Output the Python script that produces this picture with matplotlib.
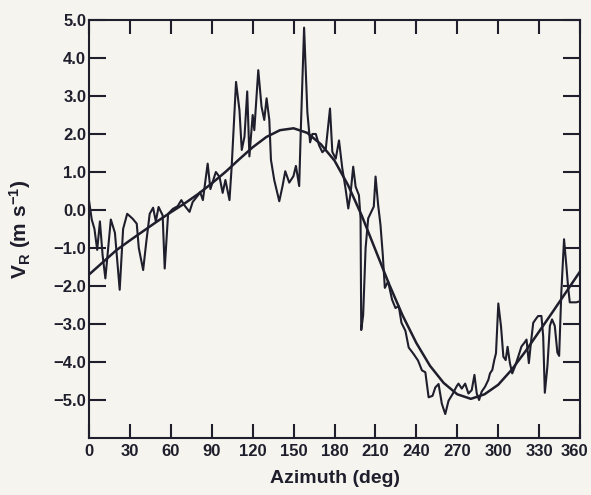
import numpy as np
import matplotlib
matplotlib.use('Agg')
import matplotlib.pyplot as plt
from matplotlib.transforms import ScaledTranslation

plt.rcParams['font.family'] = ['Liberation Sans', 'DejaVu Sans']
plt.rcParams['font.weight'] = 'bold'
plt.rcParams['mathtext.fontset'] = 'custom'
plt.rcParams['mathtext.rm'] = 'Liberation Sans:bold'
plt.rcParams['mathtext.it'] = 'Liberation Sans:bold'
plt.rcParams['mathtext.bf'] = 'Liberation Sans:bold'

az_obs = [0, 2, 4, 6, 8, 10, 12, 16, 19, 22.5, 25, 28, 32, 35, 36.5, 39.7, 42, 44.5,
          47, 49, 51, 54, 55.5, 58, 61.5, 65, 67.7, 70, 73.7, 76, 80, 81.5, 83.5, 87,
          89, 93, 95.7, 98, 100, 103, 104.6, 107.8, 110.3, 112, 114, 116, 117.6, 120,
          121.2, 124.1, 126.5, 128.5, 130.2, 132.2, 133.4, 135.8, 139.5, 141.9, 143.9,
          146.8, 149.9, 151.7, 154.1, 155.3, 157.7, 160.1, 162.1, 163.8, 166.3, 168.7,
          171.1, 173.6, 176.7, 178.4, 180.9, 183.3, 185.7, 188.1, 190.1, 191.8, 193.7,
          195.5, 197.9, 199.1, 199.6, 201, 202.8, 204.7, 207.1, 208.8, 210.1, 212,
          213.7, 215.4, 216.9, 219.3, 222.2, 224.7, 227.1, 229.1, 232, 234.4, 238,
          241.2, 244.1, 246.6, 249, 251.9, 253.9, 256.3, 258.7, 261.2, 263.6, 266.5,
          269.7, 270.9, 273.3, 275.8, 278.2, 280.6, 282.6, 284.3, 286, 287.9, 290.4,
          292.8, 294, 295.7, 297.2, 298.4, 300.1, 302.1, 303.8, 305.5, 306.9, 308.6,
          310.3, 312.3, 314.7, 317.1, 319.1, 320.8, 322.5, 324, 325.7, 327.4, 329.3,
          331.7, 333, 334.2, 336.1, 337.9, 339.5, 341.5, 343.4, 344.7, 346.3, 348.3,
          350, 351.2, 352.5, 354.9, 357.3, 360]
vr_obs = [0.25, -0.25, -0.5, -1.05, -0.3, -1.2, -1.8, -0.25, -0.6, -2.1, -0.5, -0.1,
          -0.23, -0.36, -1.0, -1.58, -0.84, -0.1, 0.06, -0.3, 0.08, -0.14, -1.54, -0.1,
          0.03, 0.1, 0.26, 0.12, -0.05, 0.21, 0.39, 0.47, 0.26, 1.22, 0.55, 1.0, 0.87,
          0.45, 0.79, 0.26, 1.14, 3.37, 2.63, 1.58, 1.93, 3.12, 1.41, 2.5, 2.1, 3.68,
          2.72, 2.37, 2.94, 2.37, 1.32, 0.79, 0.23, 0.63, 1.02, 0.72, 0.89, 1.16, 0.63,
          2.12, 4.8, 2.57, 1.78, 2.0, 2.0, 1.7, 1.52, 1.61, 2.67, 1.53, 1.35, 1.83, 1.1,
          0.56, 0.04, 0.44, 1.14, 0.61, 0.39, -0.22, -3.16, -2.77, -1.0, -0.22, -0.04,
          0.09, 0.88, 0.13, -0.39, -1.18, -2.05, -1.88, -2.36, -2.58, -2.53, -2.97,
          -3.18, -3.62, -3.79, -3.96, -4.22, -4.27, -4.93, -4.89, -4.67, -4.58, -5.1,
          -5.37, -5.02, -4.85, -4.63, -4.57, -4.7, -4.57, -4.83, -4.74, -4.34, -4.83,
          -5.0, -4.78, -4.65, -4.47, -4.3, -4.21, -3.94, -3.77, -2.46, -3.07, -3.86,
          -3.95, -3.6, -4.03, -4.3, -4.12, -3.86, -3.59, -3.5, -3.41, -4.03, -3.5,
          -2.97, -2.88, -2.79, -2.79, -3.32, -4.81, -4.11, -3.05, -2.88, -3.05, -3.75,
          -3.84, -2.17, -0.77, -1.47, -2.0, -2.43, -2.43, -2.43, -2.4]

# fitted curve, read every 10 deg
az_fit = list(range(0, 361, 10))
vr_fit = [-1.7, -1.38, -1.06, -0.8, -0.55, -0.3, -0.06, 0.17, 0.42, 0.7, 1.0, 1.33,
          1.65, 1.92, 2.1, 2.15, 2.03, 1.73, 1.3, 0.65, -0.15, -1.05, -1.95, -2.78,
          -3.5, -4.1, -4.55, -4.85, -4.97, -4.85, -4.6, -4.2, -3.72, -3.2, -2.68,
          -2.15, -1.62]

xticks = list(range(0, 361, 30))
yticks = [-5, -4, -3, -2, -1, 0, 1, 2, 3, 4, 5]
ylabels = ['\u2212%.1f' % abs(v) if v < 0 else '%.1f' % v for v in yticks]

ink = '#1e1e2c'
paper = '#f6f4ee'

fig = plt.figure(figsize=(5.91, 4.95), dpi=100, facecolor=paper)
ax = fig.add_axes([0.1506, 0.1152, 0.8308, 0.8444], facecolor=paper)

ax.plot(az_obs, vr_obs, color=ink, lw=1.5)
ax.plot(az_fit, vr_fit, color=ink, lw=1.8)

ax.set_xlim(0, 360)
ax.set_ylim(-6, 5)
ax.set_xticks(xticks)
ax.set_yticks(yticks)
ax.set_yticklabels(ylabels)

for s in ax.spines.values():
    s.set_linewidth(1.5)
    s.set_color(ink)
ax.tick_params(axis='both', direction='in', top=True, right=True, width=1.5,
               color=ink, labelcolor=ink, labelsize=12)
ax.tick_params(axis='x', length=10, pad=4)
ax.tick_params(axis='y', length=12, pad=2)

# last azimuth label sits at the page edge, nudge it in a bit
last = ax.get_xticklabels()[-1]
last.set_transform(last.get_transform() + ScaledTranslation(-4 / 72, 0, fig.dpi_scale_trans))

ax.set_xlabel('Azimuth (deg)', fontsize=14, fontweight='bold', color=ink, labelpad=8)
ax.set_ylabel(r'$\mathrm{V_R}$ (m s$^{-1}$)', fontsize=15, fontweight='bold',
              color=ink, labelpad=15)

fig.savefig('out.png', dpi=100, facecolor=paper)
